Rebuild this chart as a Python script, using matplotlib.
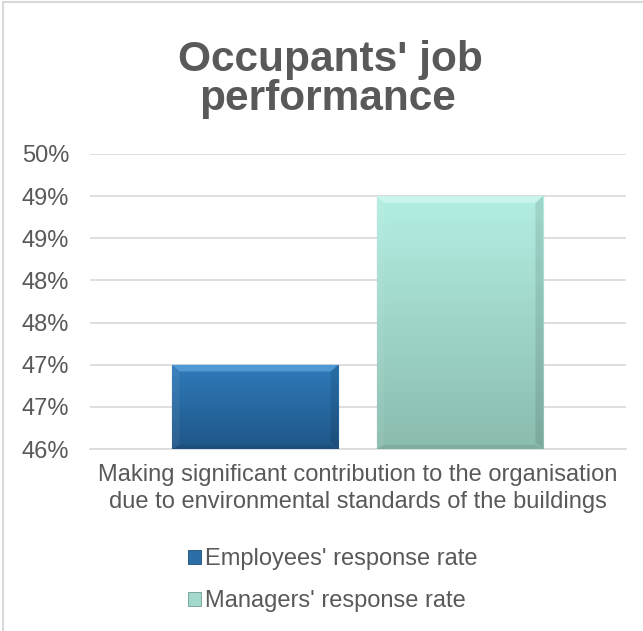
import numpy as np
import matplotlib.pyplot as plt
from matplotlib.patches import Polygon
from matplotlib.lines import Line2D
from matplotlib.colors import LinearSegmentedColormap

plt.rcParams['font.family'] = ['Liberation Sans', 'DejaVu Sans']

category = "Making significant contribution to the organisation\ndue to environmental standards of the buildings"
series = ["Employees' response rate", "Managers' response rate"]
values = [47.0, 49.0]
yticks = [46.0, 46.5, 47.0, 47.5, 48.0, 48.5, 49.0, 49.5]

top_cols = ['#2f7bbb', '#b3eee2']
bot_cols = ['#1f5687', '#8bbcb0']
edge_cols = ['#1b4b75', '#6f9a90']
light_cols = ['#6fb4e8', '#dcfdf6']

grey = '#595959'

fig = plt.figure(figsize=(6.43, 6.31), dpi=100)
ax = fig.add_axes([0.14, 0.2884, 0.8336, 0.4676])

ymin = 46.0
width = 0.31
offsets = [-0.192, 0.19]

bars = ax.bar(offsets, np.array(values) - ymin, bottom=ymin, width=width,
              color=top_cols, edgecolor=edge_cols, linewidth=0.8, zorder=3)

# vertical gradient + bevelled edges on each bar
for b, c0, c1, cl in zip(bars, top_cols, bot_cols, light_cols):
    x0, y0 = b.get_x(), b.get_y()
    w, h = b.get_width(), b.get_height()
    cmap = LinearSegmentedColormap.from_list('g', [c1, c0])
    grad = np.linspace(0, 1, 100).reshape(-1, 1)
    im = ax.imshow(grad, extent=[x0, x0 + w, y0, y0 + h], origin='lower',
                   cmap=cmap, aspect='auto', zorder=3.5)
    im.set_clip_path(b)
    bev = 0.08
    dx = 0.014
    ax.add_patch(Polygon([[x0, y0 + h], [x0 + w, y0 + h],
                          [x0 + w - dx, y0 + h - bev], [x0 + dx, y0 + h - bev]],
                         closed=True, facecolor=cl, edgecolor='none', alpha=0.55, zorder=4))
    ax.add_patch(Polygon([[x0 + w, y0 + h], [x0 + w, y0],
                          [x0 + w - dx, y0 + bev], [x0 + w - dx, y0 + h - bev]],
                         closed=True, facecolor='black', edgecolor='none', alpha=0.1, zorder=4))
    ax.add_patch(Polygon([[x0, y0], [x0 + w, y0],
                          [x0 + w - dx, y0 + bev * 0.6], [x0 + dx, y0 + bev * 0.6]],
                         closed=True, facecolor='black', edgecolor='none', alpha=0.08, zorder=4))
    ax.add_patch(Polygon([[x0, y0 + h], [x0, y0],
                          [x0 + dx, y0 + bev * 0.6], [x0 + dx, y0 + h - bev]],
                         closed=True, facecolor='white', edgecolor='none', alpha=0.06, zorder=4))

ax.set_xlim(-0.5, 0.5)
ax.set_ylim(ymin, yticks[-1])
ax.set_yticks(yticks)
ax.set_yticklabels(['%d%%' % int(np.floor(v + 0.5)) for v in yticks])
ax.set_xticks([0])
ax.set_xticklabels([category], linespacing=1.3)
ax.tick_params(axis='both', length=0, labelsize=17, labelcolor=grey)
ax.tick_params(axis='y', pad=15)
ax.tick_params(axis='x', pad=11)
ax.yaxis.grid(True, color='#d9d9d9', linewidth=1.2, zorder=0)
ax.set_axisbelow(True)
for s in ['top', 'right', 'left']:
    ax.spines[s].set_visible(False)
ax.spines['bottom'].set_color('#d9d9d9')
ax.spines['bottom'].set_linewidth(1.2)

fig.text(330 / 643, 1 - 71 / 631, "Occupants' job", ha='center', va='baseline',
         fontsize=30.5, fontweight='bold', color=grey)
fig.text(328 / 643, 1 - 110 / 631, "performance", ha='center', va='baseline',
         fontsize=30.5, fontweight='bold', color=grey)

handles = [plt.Rectangle((0, 0), 1, 1, facecolor=c, edgecolor=e, linewidth=0.6)
           for c, e in zip(['#2b6ea8', '#a3d8cc'], edge_cols)]
fig.legend(handles, series, loc='center', bbox_to_anchor=(333 / 643, 1 - 580 / 631),
           frameon=False, fontsize=17, labelcolor=grey, handlelength=0.55,
           handleheight=0.55, handletextpad=0.17, labelspacing=0.85, borderpad=0)

# chart border (left and top edges visible)
fig.add_artist(Line2D([3 / 643, 3 / 643], [0, 1 - 2 / 631], transform=fig.transFigure,
                      color='#d9d9d9', linewidth=1.5))
fig.add_artist(Line2D([3 / 643, 1], [1 - 2 / 631, 1 - 2 / 631], transform=fig.transFigure,
                      color='#d9d9d9', linewidth=1.5))

fig.savefig('out.png', dpi=100, facecolor='white')
